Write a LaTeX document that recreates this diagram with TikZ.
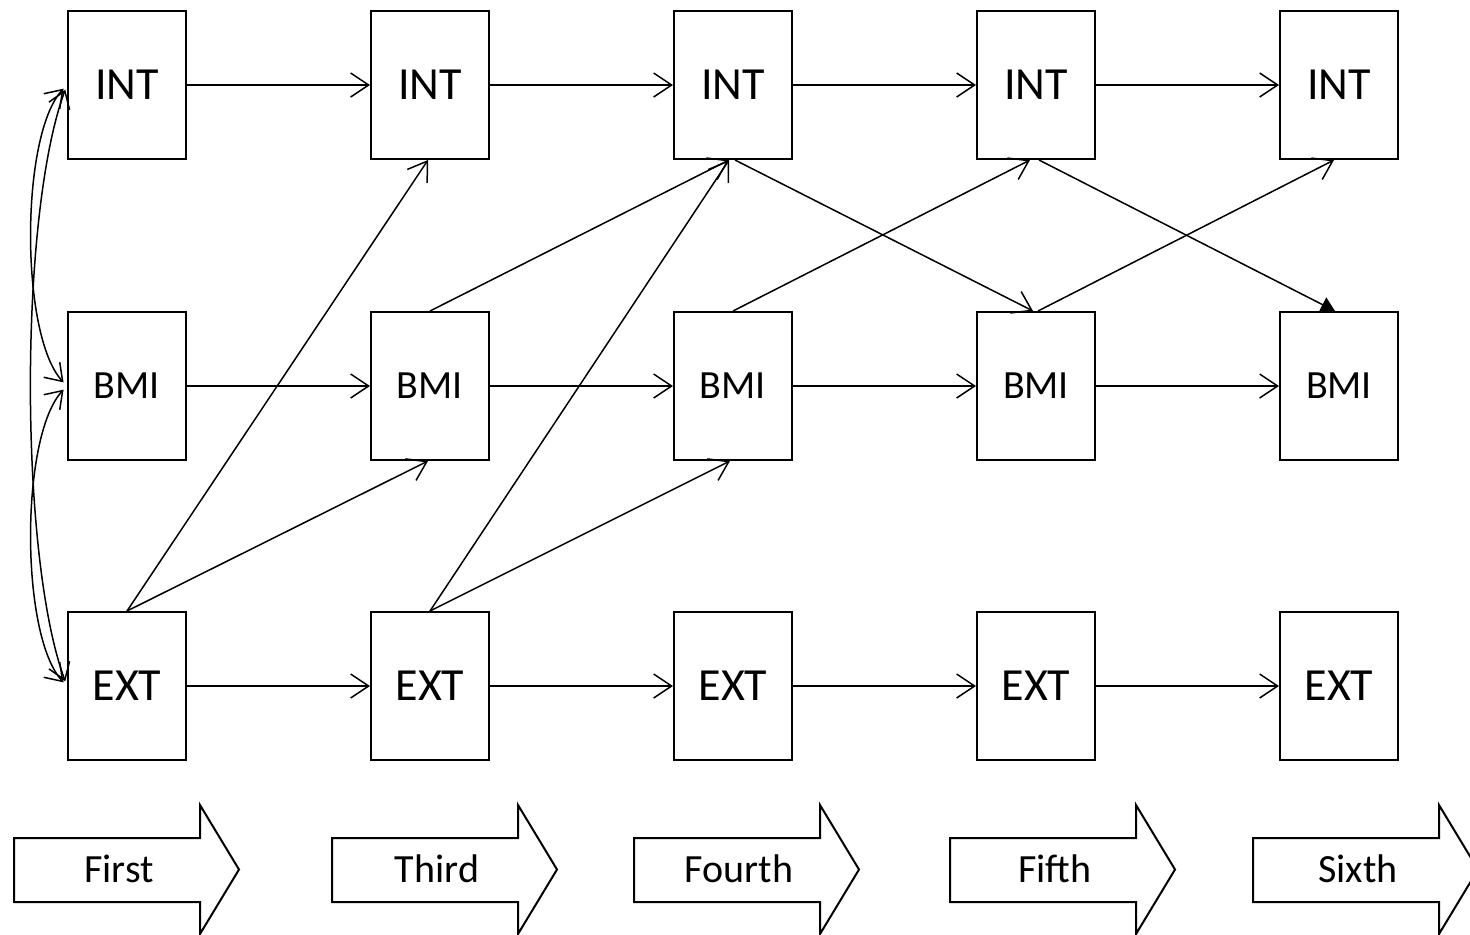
\documentclass[tikz,border=0pt]{standalone}
\usepackage{fontspec}
\setmainfont{Carlito}
\usetikzlibrary{arrows.meta}
\begin{document}
\begin{tikzpicture}[x=0.5pt,y=-0.5pt,
  box/.style={draw, line width=1pt, minimum width=59pt, minimum height=74pt, inner sep=0pt, font=\fontsize{23}{27}\selectfont},
  bmibox/.style={box, font=\fontsize{20}{24}\selectfont},
  conn/.style={line width=0.75pt, -{Straight Barb[length=9pt,width=12pt,line width=0.75pt]}},
  bidi/.style={line width=0.75pt, {Straight Barb[length=8pt,width=11pt,line width=0.75pt]}-{Straight Barb[length=8pt,width=11pt,line width=0.75pt]}, shorten <=2.5pt, shorten >=2.5pt},
  filledconn/.style={line width=0.75pt, -{Triangle[length=7pt,width=8pt]}},
  blockarrow/.style={draw, line width=1pt, line join=miter},
  blocklabel/.style={font=\fontsize{20}{24}\selectfont, inner sep=0pt}
]
\useasboundingbox (0,0) rectangle (1470,934);

% boxes
\foreach \k in {1,...,5}{
  \node[box]    (i\k) at ({127+303*(\k-1)},85)  {INT};
  \node[bmibox] (b\k) at ({127+303*(\k-1)},386) {BMI};
  \node[box]    (e\k) at ({127+303*(\k-1)},686) {EXT};
}

% horizontal connectors
\foreach \a/\b in {1/2,2/3,3/4,4/5}{
  \draw[conn] (i\a.east) -- (i\b.west);
  \draw[conn] (b\a.east) -- (b\b.west);
  \draw[conn] (e\a.east) -- (e\b.west);
}

% diagonal connectors
\draw[conn] (e1.north) -- ([xshift=-1pt]i2.south);
\draw[conn] (e1.north) -- ([xshift=-1pt]b2.south);
\draw[conn] (b2.north) -- ([xshift=-2pt]i3.south);
\draw[conn] (e2.north) -- ([xshift=-2pt]i3.south);
\draw[conn] (e2.north) -- ([xshift=-1.5pt]b3.south);
\draw[conn] ([xshift=1pt]i3.south) -- ([xshift=-1.5pt]b4.north);
\draw[conn] (b3.north) -- ([xshift=-3pt]i4.south);
\draw[filledconn] ([xshift=1.5pt]i4.south) -- ([xshift=-2pt]b5.north);
\draw[conn] ([xshift=1pt]b4.north) -- ([xshift=-2.5pt]i5.south);

% left curved connectors
\draw[bidi] (i1.west) .. controls +(-47,50) and +(-47,-50) .. (b1.west);
\draw[bidi] (b1.west) .. controls +(-47,50) and +(-47,-50) .. (e1.west);
\draw[bidi] (i1.west) .. controls +(-48,130) and +(-48,-130) .. (e1.west);

% block arrows
\foreach \x/\t/\n in {14/First/s1,332/Third/s2,634/Fourth/s3,950/Fifth/s4,1253/Sixth/s5}{
  \draw[blockarrow] (\x,838) -- ({\x+186},838) -- ({\x+186},805) -- ({\x+225},869.5)
     -- ({\x+186},934) -- ({\x+186},902) -- (\x,902) -- cycle;
  \node[blocklabel] (\n) at ({\x+105},869) {\t};
}
\end{tikzpicture}
\end{document}
